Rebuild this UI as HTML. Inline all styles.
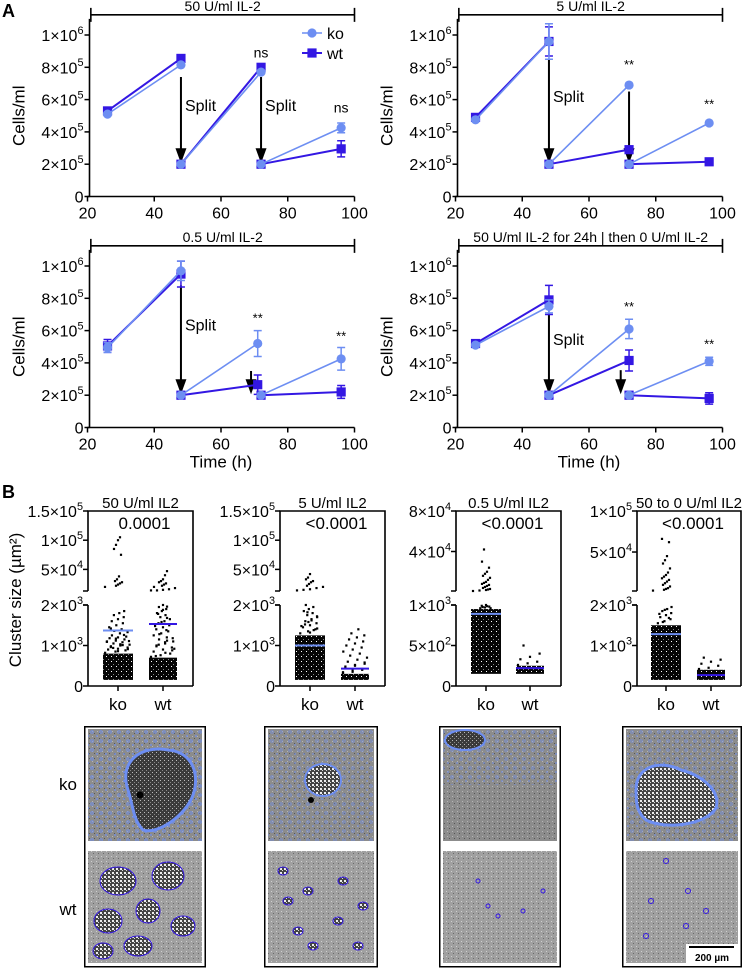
<!DOCTYPE html>
<html><head><meta charset="utf-8">
<style>
html,body{margin:0;padding:0;background:#fff;}
svg{display:block;font-family:"Liberation Sans",Arial,sans-serif;}
</style></head>
<body>
<svg id="fig" width="744" height="968" viewBox="0 0 744 968" xmlns="http://www.w3.org/2000/svg">
<defs>
  <pattern id="dense" width="5" height="5" patternUnits="userSpaceOnUse">
    <rect width="5" height="5" fill="#050505"/>
    <rect x="1" y="1" width="1" height="1" fill="#fff"/>
    <rect x="3" y="4" width="1" height="1" fill="#888"/>
  </pattern>
  <pattern id="bg" width="5" height="5" patternUnits="userSpaceOnUse">
    <rect width="5" height="5" fill="#a0a0a0"/>
    <rect x="1" y="1" width="1" height="1" fill="#cfcfcf"/>
    <rect x="3" y="3" width="1" height="1" fill="#6a6a6a"/>
  </pattern>
  <pattern id="bgdark" width="5" height="5" patternUnits="userSpaceOnUse">
    <rect width="5" height="5" fill="#8c8c8c"/>
    <rect x="2" y="1" width="1" height="1" fill="#b5b5b5"/>
    <rect x="4" y="3" width="1" height="1" fill="#555"/>
  </pattern>
  <pattern id="cells" width="4" height="4" patternUnits="userSpaceOnUse">
    <rect width="4" height="4" fill="#444"/>
    <rect x="0" y="0" width="2" height="2" fill="#eee"/>
    <rect x="2" y="2" width="1" height="1" fill="#ddd"/>
  </pattern>
  <pattern id="cellsdark" width="4" height="4" patternUnits="userSpaceOnUse">
    <rect width="4" height="4" fill="#3a3a3a"/>
    <rect x="0" y="0" width="1" height="1" fill="#bbb"/>
    <rect x="2" y="2" width="1" height="1" fill="#888"/>
  </pattern>
  <pattern id="bluespeck" width="9" height="9" patternUnits="userSpaceOnUse">
    <circle cx="2" cy="3" r="1.3" fill="none" stroke="#6d8ef2" stroke-width="1"/>
    <circle cx="7" cy="7" r="1" fill="#6d8ef2"/>
  </pattern>
</defs>
<g id="root"></g>
</svg>
<script>
// ---------- Panel A data (values in thousands of cells/ml) ----------
const timesA = [26, 48, 48, 72, 72, 96];
const timesBL = [26, 48, 48, 71, 72, 96];
const tlKo = [510, 815, 200, 770, 200, 425];
const tlKoErr = [10, 10, 5, 10, 5, 30];
const tlWt = [530, 855, 200, 800, 200, 295];
const tlWtErr = [10, 10, 5, 10, 5, 50];
const trKo = [475, 960, 200, 690, 200, 455];
const trKoErr = [10, 110, 5, 5, 5, 5];
const trWt = [490, 960, 200, 290, 200, 215];
const trWtErr = [10, 90, 5, 10, 5, 10];
const blKo = [495, 970, 200, 520, 200, 425];
const blKoErr = [30, 60, 5, 80, 5, 70];
const blWt = [505, 950, 200, 265, 200, 220];
const blWtErr = [40, 80, 5, 60, 5, 40];
const brKo = [510, 750, 200, 610, 200, 410];
const brKoErr = [10, 40, 5, 60, 5, 25];
const brWt = [520, 790, 200, 415, 200, 180];
const brWtErr = [10, 90, 5, 65, 5, 35];
const yTicksA = [0, 200, 400, 600, 800, 1000];
const yTickLabelsA = [["0",""], ["2×10","5"], ["4×10","5"], ["6×10","5"], ["8×10","5"], ["1×10","6"]];
const xTicksA = [20, 40, 60, 80, 100];
const titlesA = ["50 U/ml IL-2", "5 U/ml IL-2", "0.5 U/ml IL-2", "50 U/ml IL-2 for 24h | then 0 U/ml IL-2"];
const tlSig = [["ns", 72, 860], ["ns", 96, 520]];
const trSig = [["**", 72, 790], ["**", 96, 545]];
const blSig = [["**", 71, 650], ["**", 96, 540]];
const brSig = [["**", 72, 720], ["**", 96, 490]];
const tlArrows = [[48, 740, 200, "Split"], [72, 740, 200, "Split"]];
const trArrows = [[48, 850, 200, "Split"], [72, 650, 200, ""]];
const blArrows = [[48, 880, 200, "Split"], [69, 350, 200, ""]];
const brArrows = [[48, 700, 200, "Split"], [69.5, 355, 200, ""]];

// ---------- Panel B data (cluster size, µm²) ----------
const bCats = ["ko", "wt"];
const bTitles = ["50 U/ml IL2", "5 U/ml IL2", "0.5 U/ml IL2", "50 to 0 U/ml IL2"];
const bPvals = ["0.0001", "<0.0001", "<0.0001", "<0.0001"];
const bDenseMax1 = [800, 700];
const bDenseMax2 = [1250, 300];
const bDenseMax3 = [950, 250];
const bDenseMax4 = [1500, 400];
const bMean1 = [1370, 1530];
const bMean2 = [1000, 430];
const bMean3 = [890, 220];
const bMean4 = [1280, 270];
const b1KoLow = [820,850,880,900,920,950,980,1000,1020,1050,1080,1100,1120,1150,1180,1200,1220,1250,1300,1330,1360,1400,1450,1500,1550,1600,1650,1700,1750,1800,1850,940,1010,1090,1170,1260,1420,860,910,960,1030,1110];
const b1WtLow = [720,760,800,850,900,950,1000,1050,1100,1150,1200,1250,1300,1350,1400,1450,1500,1550,1600,1650,1700,1750,1800,1850,1900,1950,2000,880,980,1080,1180,1280,1380,1480,1580,1680,1780,1880,1960,740,820,920,1020,1120];
const b1KoUp = [20000,22000,24000,26000,28000,30000,33000,38000,75000,85000,92000,100000,105000];
const b1WtUp = [14000,14000,15000,16000,18000,20000,22000,24000,26000,28000,30000,33000,40000,47000];
const b2KoLow = [1300,1350,1400,1450,1500,1550,1600,1650,1700,1750,1800,1850,1900,1950,2000,1320,1420,1520,1620,1720,1820,1380,1480,1580];
const b2WtLow = [320,350,400,450,500,550,600,650,700,750,800,850,900,950,1000,1050,1100,1150,1200,1250,1300,1400,340,380,420,480,520,580];
const b2KoUp = [14000,15000,16000,18000,20000,22000,25000,28000,30000,33000,36000,42000];
const b2WtUp = [];
const b3KoLow = [960,970,980,990,1000,960,975,985];
const b3WtLow = [260,280,300,330,360,400,500];
const b3KoUp = [1000,1500,2000,2500,3000,4000,5000,6000,7000,8000,9000,10000,12000,14000,16000,18000,20000,24000,30000,42000];
const b3WtUp = [];
const b4KoLow = [1550,1600,1650,1700,1750,1800,1850,1900,1950,1580,1680,1780,1880];
const b4WtLow = [420,450,500,550,600,650,700];
const b4KoUp = [3000,4000,5000,6000,8000,10000,12000,14000,16000,18000,20000,22000,25000,30000,36000,40000,45000,62000,66000];
const b4WtUp = [];
const bYLow12 = [0, 1000, 2000];
const bYLowLabels12 = [["0",""], ["1×10","3"], ["2×10","3"]];
const bYUp12 = [50000, 100000, 150000];
const bYUpLabels12 = [["5×10","4"], ["1×10","5"], ["1.5×10","5"]];
const bYLow3 = [0, 500, 1000];
const bYLowLabels3 = [["0",""], ["5×10","2"], ["1×10","3"]];
const bYUp3 = [40000, 80000];
const bYUpLabels3 = [["4×10","4"], ["8×10","4"]];
const bYUp4 = [50000, 100000];
const bYUpLabels4 = [["5×10","4"], ["1×10","5"]];

const KO = "#6d8ef2", WT = "#3317e3";
const NS = "http://www.w3.org/2000/svg";
const root = document.getElementById("root");
function mk(tag, attrs, parent) {
  const e = document.createElementNS(NS, tag);
  for (const k in attrs) e.setAttribute(k, attrs[k]);
  (parent || root).appendChild(e);
  return e;
}
function supText(parent, x, y, parts, size, anchor) {
  const t = mk("text", {x: x, y: y, "font-size": size, "text-anchor": anchor || "end", fill: "#000"}, parent);
  t.appendChild(document.createTextNode(parts[0]));
  if (parts[1]) {
    const s = mk("tspan", {dy: -size * 0.45, "font-size": size * 0.68}, t);
    s.textContent = parts[1];
  }
  return t;
}

// ---------- Panel letters ----------
let la = mk("text", {x: 2, y: 17, "font-size": 18, "font-weight": "bold"});
la.textContent = "A";


let lb = mk("text", {x: 2, y: 498, "font-size": 18, "font-weight": "bold"});
lb.textContent = "B";



// ---------- Panel A ----------
function drawA(name, ox, oy, times, ko, koE, wt, wtE, title, sig, arrows, showX, legend) {
  const g = mk("g", {});
  
  
  const x0 = ox, x1 = ox + 267, y0 = oy, yTop = oy - 161.5;
  const X = t => x0 + (t - 20) / 80 * (x1 - x0);
  const Y = v => y0 - v / 1000 * (y0 - yTop);
  const ax = mk("path", {d: `M${x0+2},${Y(1100)} V${y0} M${x0},${y0} H${x1}`, stroke: "#000", "stroke-width": 1.6, fill: "none"}, g);
  
  
  yTicksA.forEach((v, i) => {
    const tk = mk("line", {x1: x0 - 3, x2: x0 + 2, y1: Y(v), y2: Y(v), stroke: "#000", "stroke-width": 1.5}, g);
    
    
    const tl = supText(g, x0 - 4, Y(v) + 6, yTickLabelsA[i], 16);
    
    
  });
  xTicksA.forEach(t => {
    const tk = mk("line", {x1: X(t), x2: X(t), y1: y0, y2: y0 + 5, stroke: "#000", "stroke-width": 1.5}, g);
    
    
    const tl = mk("text", {x: X(t), y: y0 + 22, "font-size": 16, "text-anchor": "middle"}, g);
    tl.textContent = t;
    
    
  });
  const by = Y(1100) - 4;
  const br = mk("path", {d: `M${X(21)},${by-7} V${by+7} M${X(21)},${by} H${x1} M${x1},${by-7} V${by+7}`, stroke: "#000", "stroke-width": 1.6, fill: "none"}, g);
  
  
  const bt = mk("text", {x: (X(21) + x1) / 2, y: by - 4, "font-size": 14, "text-anchor": "middle"}, g);
  bt.textContent = title;
  
  
  const yt = mk("text", {x: 0, y: 0, "font-size": 17, "text-anchor": "middle", transform: `translate(${ox-63},${(y0+yTop)/2}) rotate(-90)`}, g);
  yt.textContent = "Cells/ml";
  
  
  if (showX) {
    const xt = mk("text", {x: (x0 + x1) / 2, y: y0 + 40, "font-size": 17, "text-anchor": "middle"}, g);
    xt.textContent = "Time (h)";
    
    
  }
  arrows.forEach(a => {
    const ag = mk("g", {}, g);
    
    
    mk("line", {x1: X(a[0]), x2: X(a[0]), y1: Y(a[1]), y2: Y(a[2]) - 10, stroke: "#000", "stroke-width": 2}, ag);
    mk("path", {d: `M${X(a[0])-5.5},${Y(a[2])-16} L${X(a[0])+5.5},${Y(a[2])-16} L${X(a[0])},${Y(a[2])-1} Z`, fill: "#000"}, ag);
    if (a[3]) {
      const st = mk("text", {x: X(a[0]) + 4, y: Y((a[1] + a[2]) / 2 + 60), "font-size": 16}, ag);
      st.textContent = a[3];
      
      
    }
  });
  function series(vals, errs, color, isKo) {
    const sg = mk("g", {}, g);
    
    
    for (let s = 0; s < 3; s++) {
      const i = s * 2;
      const ln = mk("line", {x1: X(times[i]), y1: Y(vals[i]), x2: X(times[i+1]), y2: Y(vals[i+1]), stroke: color, "stroke-width": isKo ? 1.6 : 2}, sg);
      
      
    }
    vals.forEach((v, i) => {
      const cx = X(times[i]), cy = Y(v);
      const eb = mk("path", {d: `M${cx},${Y(v+errs[i])} V${Y(v-errs[i])} M${cx-4},${Y(v+errs[i])} H${cx+4} M${cx-4},${Y(v-errs[i])} H${cx+4}`, stroke: color, "stroke-width": 1.5, fill: "none"}, sg);
      
      
      let m;
      if (isKo) m = mk("circle", {cx: cx, cy: cy, r: 4.6, fill: color}, sg);
      else m = mk("rect", {x: cx - 4.6, y: cy - 4.6, width: 9.2, height: 9.2, fill: color}, sg);
      
      
    });
  }
  series(wt, wtE, WT, false);
  series(ko, koE, KO, true);
  sig.forEach(s => {
    const st = mk("text", {x: X(s[1]), y: Y(s[2]), "font-size": s[0] === "ns" ? 14 : 13, "text-anchor": "middle"}, g);
    st.textContent = s[0];
    
    
  });
  if (legend) {
    const lg = mk("g", {}, g);
    
    
    const e1 = mk("g", {}, lg);
    
    
    mk("line", {x1: 302, x2: 322, y1: 33, y2: 33, stroke: KO, "stroke-width": 1.6}, e1);
    mk("circle", {cx: 312, cy: 33, r: 4.6, fill: KO}, e1);
    const t1 = mk("text", {x: 327, y: 39, "font-size": 16}, e1);
    t1.textContent = "ko";
    const e2 = mk("g", {}, lg);
    
    
    mk("line", {x1: 302, x2: 322, y1: 53, y2: 53, stroke: WT, "stroke-width": 2}, e2);
    mk("rect", {x: 307.4, y: 48.4, width: 9.2, height: 9.2, fill: WT}, e2);
    const t2 = mk("text", {x: 327, y: 59, "font-size": 16}, e2);
    t2.textContent = "wt";
  }
}
drawA("chart-50u", 87.5, 196.5, timesA, tlKo, tlKoErr, tlWt, tlWtErr, titlesA[0], tlSig, tlArrows, false, true);
drawA("chart-5u", 455.5, 196.5, timesA, trKo, trKoErr, trWt, trWtErr, titlesA[1], trSig, trArrows, false, false);
drawA("chart-0-5u", 87.5, 427.5, timesBL, blKo, blKoErr, blWt, blWtErr, titlesA[2], blSig, blArrows, true, false);
drawA("chart-50-to-0u", 455.5, 427.5, timesA, brKo, brKoErr, brWt, brWtErr, titlesA[3], brSig, brArrows, true, false);

// ---------- Panel B ----------
function drawB(idx, ax, right, kx, wx, lowMax, lowTicks, lowLabels, upMin, upMax, upTicks, upLabels, denseMax, means, koLow, wtLow, koUp, wtUp) {
  const g = mk("g", {});
  
  
  const yLow = v => 686 - v / lowMax * 81;
  const yUp = v => 591 - (v - upMin) / (upMax - upMin) * 80;
  const fr = mk("path", {d: `M${ax},686 V605 M${ax-5},605 H${ax} M${ax-5},591 H${ax} M${ax},591 V511 H${right} V686 M${ax},686 H${right}`, stroke: "#000", "stroke-width": 1.6, fill: "none"}, g);
  
  
  lowTicks.forEach((v, i) => {
    mk("line", {x1: ax - 5, x2: ax, y1: yLow(v), y2: yLow(v), stroke: "#000", "stroke-width": 1.5}, g);
    const tl = supText(g, ax - 5, yLow(v) + 6, lowLabels[i], 16);
    
    
  });
  upTicks.forEach((v, i) => {
    mk("line", {x1: ax - 5, x2: ax, y1: yUp(v), y2: yUp(v), stroke: "#000", "stroke-width": 1.5}, g);
    const tl = supText(g, ax - 5, yUp(v) + 6, upLabels[i], 16);
    
    
  });
  const xs = [kx, wx];
  xs.forEach((x, i) => {
    mk("line", {x1: x, x2: x, y1: 686, y2: 691, stroke: "#000", "stroke-width": 1.5}, g);
    const tl = mk("text", {x: x, y: 710, "font-size": 17, "text-anchor": "middle"}, g);
    tl.textContent = bCats[i];
    
    
  });
  const tt = mk("text", {x: (ax + right) / 2, y: 508, "font-size": 15, "text-anchor": "middle"}, g);
  tt.textContent = bTitles[idx];
  
  
  const pv = mk("text", {x: (ax + right) / 2 + 4, y: 529, "font-size": 17, "text-anchor": "middle"}, g);
  pv.textContent = bPvals[idx];
  
  
  const ups = [koUp, wtUp], lows = [koLow, wtLow];
  xs.forEach((x, gi) => {
    const col = mk("g", {}, g);
    
    
    const hw = gi === 0 ? 15 : 14;
    const d = mk("rect", {x: x - hw, y: yLow(denseMax[gi]), width: hw * 2, height: yLow(150) - yLow(denseMax[gi]), fill: "url(#dense)"}, col);
    
    
    lows[gi].forEach((v, i) => {
      const dx = (((i * 37) % 11) - 5) / 5 * (hw - 2) * Math.min(1, 0.4 + (lowMax - v) / lowMax);
      mk("rect", {x: x + dx - 1.1, y: yLow(v) - 1.1, width: 2.2, height: 2.2, fill: "#000"}, col);
    });
    ups[gi].forEach((v, i) => {
      const dx = (((i * 29) % 9) - 4) / 4 * (v < upMin * 1.6 ? hw - 2 : 4);
      mk("rect", {x: x + dx - 1.1, y: yUp(v) - 1.1, width: 2.2, height: 2.2, fill: "#000"}, col);
    });
    const ml = mk("line", {x1: x - hw, x2: x + hw, y1: yLow(means[gi]), y2: yLow(means[gi]), stroke: gi === 0 ? KO : WT, "stroke-width": 2}, col);
    
    
  });
}
drawB(0, 88, 193, 118, 163, 2000, bYLow12, bYLowLabels12, 13000, 150000, bYUp12, bYUpLabels12, bDenseMax1, bMean1, b1KoLow, b1WtLow, b1KoUp, b1WtUp);
drawB(1, 280, 385, 310, 355, 2000, bYLow12, bYLowLabels12, 13000, 150000, bYUp12, bYUpLabels12, bDenseMax2, bMean2, b2KoLow, b2WtLow, b2KoUp, b2WtUp);
drawB(2, 456, 561, 486, 530, 1000, bYLow3, bYLowLabels3, 1000, 80000, bYUp3, bYUpLabels3, bDenseMax3, bMean3, b3KoLow, b3WtLow, b3KoUp, b3WtUp);
drawB(3, 637, 741, 666, 711, 2000, bYLow12, bYLowLabels12, 2500, 100000, bYUp4, bYUpLabels4, bDenseMax4, bMean4, b4KoLow, b4WtLow, b4KoUp, b4WtUp);
const cy = mk("text", {x: 0, y: 0, "font-size": 17, "text-anchor": "middle", transform: "translate(21,600) rotate(-90)"});
cy.textContent = "Cluster size (µm²)";



// ---------- Micrographs ----------
const rk = mk("text", {x: 68, y: 790, "font-size": 17, "text-anchor": "middle"});
rk.textContent = "ko";


const rw = mk("text", {x: 68, y: 915, "font-size": 17, "text-anchor": "middle"});
rw.textContent = "wt";


const frames = [[84, 206], [264, 378], [439, 561], [622, 742]];
frames.forEach((f, i) => {
  const g = mk("g", {});
  
  
  const fr = mk("rect", {x: f[0] + 0.75, y: 726.75, width: f[1] - f[0] - 1.5, height: 240, fill: "#fff", stroke: "#000", "stroke-width": 1.5}, g);
  
  
  const ix = f[0] + 4, iw = f[1] - f[0] - 8;
  const ko = mk("g", {}, g);
  
  
  mk("rect", {x: ix, y: 729, width: iw, height: 112, fill: "url(#bgdark)"}, ko);
  const wt = mk("g", {}, g);
  
  
  mk("rect", {x: ix, y: 851, width: iw, height: 112, fill: "url(#bg)"}, wt);
  if (i === 0) {
    mk("rect", {x: ix, y: 729, width: iw, height: 112, fill: "url(#bluespeck)", opacity: 0.8}, ko);
    mk("path", {d: `M${ix+40},790 C${ix+30},760 ${ix+55},745 ${ix+80},750 C${ix+105},752 ${ix+112},775 ${ix+105},795 C${ix+98},815 ${ix+70},835 ${ix+55},830 C${ix+45},820 ${ix+45},805 ${ix+40},790 Z`, fill: "url(#cellsdark)", stroke: KO, "stroke-width": 3}, ko);
    mk("circle", {cx: ix + 52, cy: 795, r: 3.5, fill: "#000"}, ko);
    [[30,30,18,14],[80,25,16,14],[60,60,12,12],[20,70,14,12],[95,75,12,10],[50,95,14,10],[15,100,10,8]].forEach(b => {
      mk("ellipse", {cx: ix + b[0], cy: 851 + b[1], rx: b[2], ry: b[3], fill: "url(#cells)", stroke: WT, "stroke-width": 1}, wt);
    });
  } else if (i === 1) {
    mk("rect", {x: ix, y: 729, width: iw, height: 112, fill: "url(#bluespeck)", opacity: 0.6}, ko);
    mk("ellipse", {cx: ix + 55, cy: 780, rx: 18, ry: 16, fill: "url(#cells)", stroke: KO, "stroke-width": 2}, ko);
    mk("circle", {cx: ix + 43, cy: 800, r: 3, fill: "#000"}, ko);
    [[15,20],[40,40],[75,30],[95,55],[30,80],[70,70],[45,95],[90,95],[20,50]].forEach(b => {
      mk("ellipse", {cx: ix + b[0], cy: 851 + b[1], rx: 5, ry: 4, fill: "url(#cells)", stroke: WT, "stroke-width": 1}, wt);
    });
  } else if (i === 2) {
    mk("rect", {x: ix, y: 729, width: iw, height: 56, fill: "url(#bluespeck)", opacity: 0.6}, ko);
    mk("ellipse", {cx: ix + 22, cy: 740, rx: 20, ry: 10, fill: "url(#cellsdark)", stroke: KO, "stroke-width": 2}, ko);
    [[35,30],[45,55],[80,60],[55,65],[100,40]].forEach(b => {
      mk("circle", {cx: ix + b[0], cy: 851 + b[1], r: 2, fill: "none", stroke: WT, "stroke-width": 1}, wt);
    });
  } else {
    mk("rect", {x: ix, y: 729, width: iw, height: 112, fill: "url(#bluespeck)", opacity: 0.6}, ko);
    mk("path", {d: `M${ix+10},790 C${ix+10},765 ${ix+35},760 ${ix+55},770 C${ix+75},775 ${ix+95},790 ${ix+90},808 C${ix+80},825 ${ix+40},830 ${ix+20},820 C${ix+10},812 ${ix+10},800 ${ix+10},790 Z`, fill: "url(#cells)", stroke: KO, "stroke-width": 3}, ko);
    [[40,10],[62,40],[25,50],[80,60],[20,85],[60,75]].forEach(b => {
      mk("circle", {cx: ix + b[0], cy: 851 + b[1], r: 2.5, fill: "none", stroke: WT, "stroke-width": 1}, wt);
    });
    const sb = mk("g", {}, wt);
    
    
    mk("rect", {x: 686, y: 944, width: 53, height: 19, fill: "#fff"}, sb);
    mk("line", {x1: 689, x2: 734, y1: 947, y2: 947, stroke: "#000", "stroke-width": 2}, sb);
    const st = mk("text", {x: 712, y: 961, "font-size": 10, "font-weight": "bold", "text-anchor": "middle"}, sb);
    st.textContent = "200 µm";
  }
});
</script>
</body></html>
